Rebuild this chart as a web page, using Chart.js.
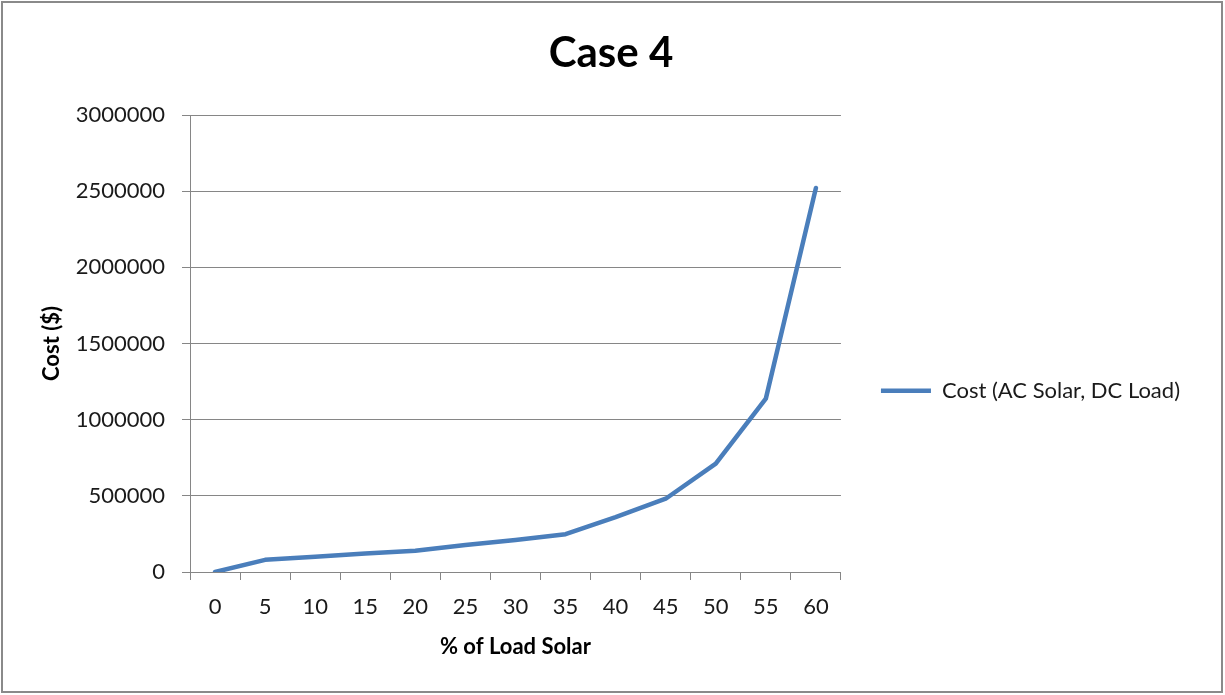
<!DOCTYPE html>
<html>
<head>
<meta charset="utf-8">
<script src="https://cdn.jsdelivr.net/npm/chart.js@4"></script>
<style>
  body { margin: 0; background: #fff; }
  #frame {
    position: absolute; left: 1px; top: 1px;
    width: 1222px; height: 692px;
    border: 2px solid #8a8a8a; box-sizing: border-box;
  }
  #chart1 { position: absolute; left: 0; top: 0; }
</style>
</head>
<body>
<div id="frame"></div>
<canvas id="chart1" width="1225" height="695"></canvas>
<script>

const lineColor = "#4A7EBB"
const gridColor = "#868686"
const textColor = "#1a1a1a"

const pctSolar = ["0", "5", "10", "15", "20", "25", "30", "35", "40", "45", "50", "55", "60"];
const costAcSolarDcLoad = [0, 80000, 100000, 122000, 140000, 177000, 210000, 248000, 360000, 481000, 711000, 1138000, 2521000];

const seriesName = "Cost (AC Solar, DC Load)";
const chartTitle = "Case 4";
const xTitle = "% of Load Solar";
const yTitle = "Cost ($)";

Chart.defaults.font.family = "Lato";
Chart.defaults.color = textColor;

var c1 = createChart('chart1');

function createChart(name){

    var ctx = document.getElementById(name).getContext('2d');
    var chart = new Chart(ctx, {
        type: 'line',
        data: {
            labels: pctSolar,
            datasets: [{
                label: seriesName,
                data: costAcSolarDcLoad,
                borderColor: lineColor,
                backgroundColor: lineColor,
                borderWidth: 4.5,
                borderCapStyle: 'round',
                borderJoinStyle: 'round',
                pointRadius: 0,
                tension: 0
            }]
        },
        options: {
            responsive: false,
            animation: false,
            // left/right padding kept unequal so the title centres like the original
            layout: { padding: { left: 32, right: 35, bottom: 23 } },
            plugins: {
                title: {
                    display: true,
                    text: chartTitle,
                    color: '#000',
                    font: { size: 42, weight: 'bold' },
                    padding: { top: 28, bottom: 36.6 }
                },
                legend: {
                    position: 'right',
                    maxWidth: 420,
                    title: { display: true, text: ' ', padding: { top: 95, bottom: 0 } },
                    labels: {
                        usePointStyle: true,
                        pointStyle: 'line',
                        pointStyleWidth: 50,
                        padding: 40,
                        color: textColor,
                        font: { size: 22 }
                    }
                },
                tooltip: { enabled: false }
            },
            scales: {
                x: {
                    offset: true,
                    grid: {
                        offset: true,
                        drawOnChartArea: false,
                        color: gridColor,
                        tickLength: 8
                    },
                    border: { color: gridColor },
                    ticks: { maxRotation: 0, autoSkip: false, padding: 14, font: { size: 22 } },
                    title: {
                        display: true,
                        text: xTitle,
                        color: '#000',
                        font: { size: 22, weight: 'bold' },
                        padding: { top: 0, bottom: 12 }
                    },
                    afterFit: function(s){ s.height = 100; }
                },
                y: {
                    min: 0,
                    max: 3000000,
                    grid: { color: gridColor, tickLength: 8 },
                    border: { color: gridColor },
                    ticks: {
                        stepSize: 500000,
                        padding: 17,
                        font: { size: 22 },
                        callback: function(v){ return String(v); }
                    },
                    title: {
                        display: true,
                        text: yTitle,
                        color: '#000',
                        font: { size: 22, weight: 'bold' },
                        padding: { top: 7, bottom: 0 }
                    },
                    afterFit: function(s){ s.width = 158; }
                }
            }
        }
    });

    return chart;
}

</script>
</body>
</html>
